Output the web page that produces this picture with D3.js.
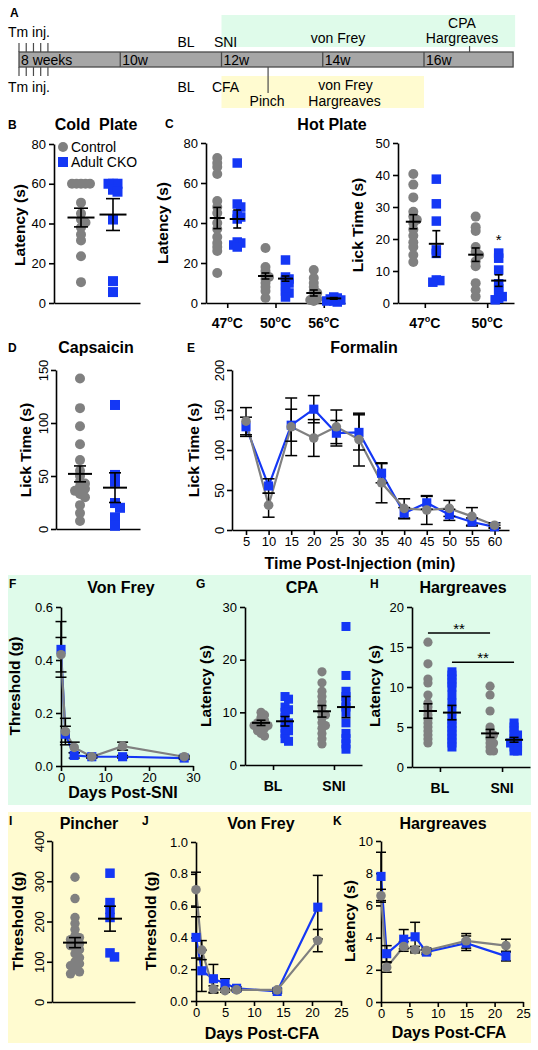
<!DOCTYPE html>
<html><head><meta charset="utf-8">
<script src="https://cdn.jsdelivr.net/npm/d3@7"></script>
<style>body{margin:0;background:#fff} svg{display:block} text{font-family:'Liberation Sans',Arial,sans-serif}</style>
</head><body><svg id="fig" width="538" height="1050"></svg>
<script>
// ---------------- DATA ----------------
const groupNames = ["Control", "Adult CKO"];

// A timeline
const weekTicks = [8, 10, 12, 14, 16];
const weekLabels = ["8 weeks", "10w", "12w", "14w", "16w"];
const tmInjDays = [0, 1, 2, 3, 4];
const topEvents = [{w: 11.3, t: "BL"}, {w: 12.08, t: "SNI"}, {w: 14.3, t: "von Frey"}];
const bottomEvents = [{w: 11.3, t: "BL"}, {w: 12.08, t: "CFA"}];

// B Cold plate
const coldPlateControl = [60, 60, 60, 60, 60, 50.5, 45, 42, 40.5, 38, 34.5, 31.5, 23.5, 10.5];
const coldPlateCKO = [60, 60, 60, 57, 56, 42, 11, 5.5];
const coldPlateMean = [43, 44.5];
const coldPlateSEM = [4.7, 8];

// C Hot plate
const hotTemps = ["47", "50", "56"];
const hotLatencyControl = [
  [72.5, 70, 68, 64.5, 51, 48, 45, 40, 37, 33, 30, 28, 26, 15],
  [27.5, 18, 16, 14, 13, 12, 10, 8, 6, 2.5],
  [16.5, 12.5, 10, 8, 6, 5, 3, 2, 1.5, 1]];
const hotLatencyCKO = [
  [70, 49.5, 48, 44, 43, 42, 30.5, 30, 29, 28],
  [21.5, 13, 12, 11, 10, 8, 6, 5, 3],
  [3, 2.5, 2, 1.5, 1, 1, 0.5]];
const hotLatencyMean = [[42.5, 42], [13.5, 12.2], [5, 2.3]];
const hotLatencySEM = [[5.3, 4.5], [1.5, 1.3], [1.5, 0.4]];

const lickTemps = ["47", "50"];
const lickControl = [
  [40.3, 37, 33, 28.5, 27, 26, 25, 23, 21, 19, 17.5, 15, 12.8],
  [27, 23.7, 22.5, 17.5, 16, 15, 13, 11.5, 6.2, 4, 2]];
const lickCKO = [
  [38.7, 31, 25.6, 16.6, 15.5, 7.2, 7, 6.5],
  [15.6, 14, 10.3, 6, 4.5, 3, 2, 1.5, 1]];
const lickMean = [[25.4, 18.5], [15.1, 7]];
const lickSEM = [[2.2, 4.1], [2.1, 1.8]];

// D Capsaicin
const capsControl = [142, 114, 97, 80, 65, 55, 50, 45, 43, 40, 38, 36, 33, 30, 22.5, 15, 7.5];
const capsCKO = [117, 51, 44.5, 24.5, 20, 11, 3];
const capsMean = [52, 39];
const capsSEM = [7.5, 14];

// E Formalin
const formalinTimes = [5, 10, 15, 20, 25, 30, 35, 40, 45, 50, 55, 60];
const formalinControlMean = [136, 31, 129, 115, 129, 113, 59, 27, 25, 27, 17, 6];
const formalinControlSEM = [17, 15, 36, 23, 21, 33, 25, 12, 18, 10, 11, 3];
const formalinCKOMean = [129, 55, 131, 151, 121, 122, 71, 21, 34, 19, 10, 4];
const formalinCKOSEM = [12, 9, 20, 17, 16, 22, 12, 7, 8, 7, 5, 2];

// F Von Frey SNI
const sniDays = [0, 1, 3, 7, 14, 28];
const vfSniControlMean = [0.42, 0.13, 0.07, 0.035, 0.075, 0.035];
const vfSniControlSEM = [0.065, 0.05, 0.02, 0.005, 0.015, 0.005];
const vfSniCKOMean = [0.44, 0.12, 0.04, 0.035, 0.035, 0.03];
const vfSniCKOSEM = [0.105, 0.03, 0.01, 0.005, 0.005, 0.005];

// G CPA
const sniCats = ["BL", "SNI"];
const cpaControl = [[10, 9.5, 9, 8.5, 8, 8, 7.8, 7.5, 7.5, 7, 7, 6.5, 6, 5.5],
                    [17.7, 15.6, 14, 13, 12, 11, 10, 9.5, 9, 8, 7.5, 7, 6, 5, 4]];
const cpaCKO = [[13, 12.5, 11, 10.5, 10, 9, 8, 8, 7, 6.5, 6, 5, 4.5],
                [26.3, 17, 14, 13, 12, 11, 10, 8, 6, 5, 4, 3]];
const cpaMean = [[8, 8.3], [10.2, 11]];
const cpaSEM = [[0.5, 0.9], [1.1, 2]];

// H Hargreaves SNI
const hargControl = [[15.6, 12.9, 11, 10.5, 9, 8, 7.5, 7, 6.5, 6, 5.5, 5, 4.5, 4, 3.5, 3],
                     [10.1, 9, 7, 5, 4.5, 4, 4, 3.5, 3, 3, 2.5, 2, 2]];
const hargCKO = [[11.9, 11.5, 11, 10.5, 10, 9, 8, 7, 6, 5.5, 5, 4.5, 4, 3.5, 3, 2.5],
                 [5.5, 5, 4.5, 4, 4, 3.5, 3, 3, 3, 2.5, 2.5, 2, 2]];
const hargMean = [[7, 6.8], [4.2, 3.4]];
const hargSEM = [[0.9, 0.9], [0.5, 0.3]];
const hargSig = [{group: 0, y: 16.75, label: "**"}, {group: 1, y: 13.1, label: "**"}];

// I Pincher
const pinchControl = [310, 257, 210, 195, 180, 165, 160, 155, 150, 145, 140, 135, 130, 120, 110, 100, 95, 90, 80, 75, 70];
const pinchCKO = [320, 247, 230, 210, 122, 112];
const pinchMean = [147.5, 207];
const pinchSEM = [12.5, 31];

// J Von Frey CFA
const cfaDaysVF = [0, 1, 3, 5, 7, 14, 21];
const vfCfaControlMean = [0.70, 0.32, 0.075, 0.065, 0.07, 0.07, 0.38];
const vfCfaControlSEM = [0.11, 0.06, 0.02, 0.01, 0.01, 0.01, 0.07];
const vfCfaCKOMean = [0.40, 0.19, 0.14, 0.11, 0.08, 0.06, 0.59];
const vfCfaCKOSEM = [0.13, 0.13, 0.09, 0.03, 0.01, 0.01, 0.20];

// K Hargreaves CFA
const cfaDaysH = [0, 1, 4, 6, 8, 15, 22];
const hCfaControlMean = [6.6, 2.15, 3.45, 3.25, 3.2, 3.8, 3.5];
const hCfaControlSEM = [0.4, 0.3, 0.3, 0.2, 0.15, 0.45, 0.4];
const hCfaCKOMean = [7.8, 3.0, 3.9, 4.05, 3.1, 3.65, 2.85];
const hCfaCKOSEM = [1.5, 0.5, 0.6, 0.9, 0.15, 0.45, 0.3];

// ---------------- DRAWING ----------------
const GRAY = "#808080", BLUE = "#1437f5", GREENBG = "#dffbea", YELLOWBG = "#fffbd0";
const svg = d3.select("#fig");

function txt(x, y, s, o = {}) {
  return svg.append("text").attr("x", x).attr("y", y).text(s)
    .attr("font-size", o.size || 13).attr("font-weight", o.bold ? "bold" : "normal")
    .attr("text-anchor", o.anchor || "start").attr("fill", "#000");
}
function yLabel(cx, cy, s, size = 15.5) {
  svg.append("text").attr("transform", `translate(${cx},${cy}) rotate(-90)`)
    .attr("text-anchor", "middle").attr("dy", "0.35em").attr("font-weight", "bold")
    .attr("font-size", size).text(s);
}
function styleAxis(a) {
  a.attr("font-family", null).attr("font-size", null);
  a.select(".domain").attr("stroke", "#000").attr("stroke-width", 1.6);
  a.selectAll(".tick line").attr("stroke", "#000").attr("stroke-width", 1.6);
  a.selectAll(".tick text").attr("font-size", 13).attr("fill", "#000");
}
function yAxis(y, x0, ticks, fmt, rotated) {
  const a = svg.append("g").attr("transform", `translate(${x0},0)`)
    .call(d3.axisLeft(y).tickValues(ticks).tickFormat(fmt).tickSize(5).tickSizeOuter(0).tickPadding(3));
  styleAxis(a);
  if (rotated) a.selectAll(".tick text").attr("transform", "rotate(-90)")
    .attr("x", 0).attr("y", -8).attr("dy", 0).attr("text-anchor", "middle");
  return a;
}
function xAxisLin(x, y0, ticks) {
  const a = svg.append("g").attr("transform", `translate(0,${y0})`)
    .call(d3.axisBottom(x).tickValues(ticks).tickFormat(d3.format("d")).tickSize(5).tickSizeOuter(0).tickPadding(2));
  styleAxis(a);
  return a;
}
// simple swarm: points only pushed sideways when they nearly coincide
function swarm(vals, y, cx, step, dyT) {
  const placed = [];
  return vals.slice().sort((a, b) => b - a).map(v => {
    const py = y(v); let px = cx;
    for (let n = 0; n < 60; n++) {
      const off = n === 0 ? 0 : (n % 2 ? 1 : -1) * Math.ceil(n / 2) * step;
      px = cx + off;
      if (placed.every(p => Math.abs(p[0] - px) >= step * 0.95 || Math.abs(p[1] - py) >= dyT)) break;
    }
    placed.push([px, py]);
    return [px, py];
  });
}
function marker(g, shape, color, px, py, r) {
  if (shape === "circle") g.append("circle").attr("cx", px).attr("cy", py).attr("r", r).attr("fill", color);
  else g.append("rect").attr("x", px - r).attr("y", py - r).attr("width", 2 * r).attr("height", 2 * r).attr("fill", color);
}
function dotPanel(c) {
  const x = d3.scalePoint().domain(c.cats).range([c.x0, c.x1]).padding(c.pad);
  const ya = c.y.range()[0];
  const a = svg.append("g").attr("transform", `translate(0,${ya})`)
    .call(d3.axisBottom(x).tickSize(c.ticks ? 5 : 0).tickSizeOuter(0).tickFormat(""));
  styleAxis(a);
  if (c.ticks) {
    c.cats.forEach(cat => {
      const t = svg.append("text").attr("x", x(cat)).attr("y", ya + c.labelDy).attr("text-anchor", "middle")
        .attr("font-weight", "bold").attr("font-size", 14);
      if (c.degree) {
        t.append("tspan").text(cat);
        t.append("tspan").text("o").attr("font-size", 9).attr("dy", -6);
        t.append("tspan").text("C").attr("dy", 6);
      } else t.text(cat);
    });
  }
  const g = svg.append("g");
  const centers = [];
  c.cats.forEach((cat, i) => {
    const groupVals = [c.ctrl[i], c.cko[i]];
    centers.push([]);
    groupVals.forEach((vals, j) => {
      const cx = x(cat) + c.offsets[j];
      centers[i].push(cx);
      const rr = j === 0 ? c.r : c.side / 2;
      swarm(vals, c.y, cx, c.step, c.dyT).forEach(([px, py]) =>
        marker(g, j === 0 ? "circle" : "square", j === 0 ? GRAY : BLUE, px, py, rr));
    });
  });
  const eg = svg.append("g").attr("stroke", "#000").attr("stroke-width", 2);
  c.cats.forEach((cat, i) => {
    [0, 1].forEach(j => {
      const cx = centers[i][j], m = c.mean[i][j], s = c.sem[i][j];
      eg.append("line").attr("x1", cx - c.meanW / 2).attr("x2", cx + c.meanW / 2).attr("y1", c.y(m)).attr("y2", c.y(m));
      eg.append("line").attr("x1", cx).attr("x2", cx).attr("y1", c.y(m - s)).attr("y2", c.y(m + s)).attr("stroke-width", 1.6);
      [m - s, m + s].forEach(v => eg.append("line").attr("x1", cx - c.capW / 2).attr("x2", cx + c.capW / 2)
        .attr("y1", c.y(v)).attr("y2", c.y(v)).attr("stroke-width", 1.6));
    });
  });
  return {x, centers};
}
function lineChart(x, y, xs, series, capW, r) {
  const line = d3.line().x((d, i) => x(xs[i])).y(d => y(d));
  series.forEach(s => svg.append("path").attr("d", line(s.mean)).attr("fill", "none")
    .attr("stroke", s.color).attr("stroke-width", 2.2));
  const eg = svg.append("g").attr("stroke", "#000").attr("stroke-width", 1.5);
  series.forEach(s => s.mean.forEach((m, i) => {
    const cx = x(xs[i]), lo = m - s.sem[i], hi = m + s.sem[i];
    eg.append("line").attr("x1", cx).attr("x2", cx).attr("y1", y(lo)).attr("y2", y(hi));
    [lo, hi].forEach(v => eg.append("line").attr("x1", cx - capW / 2).attr("x2", cx + capW / 2).attr("y1", y(v)).attr("y2", y(v)));
  }));
  series.forEach(s => {
    const g = svg.append("g");
    s.mean.forEach((m, i) => marker(g, s.shape, s.color, x(xs[i]), y(m), s.shape === "circle" ? r : r * 0.95));
  });
}

// backgrounds
svg.append("rect").attr("x", 8).attr("y", 575).attr("width", 523).attr("height", 230).attr("fill", GREENBG);
svg.append("rect").attr("x", 8).attr("y", 812).attr("width", 523).attr("height", 231).attr("fill", YELLOWBG);

// ---------- Panel A ----------
const wx = d3.scaleLinear().domain([8, 16]).range([19, 424]);
const barEnd = 17.76;
svg.append("rect").attr("x", wx(12)).attr("y", 15).attr("width", wx(17.8) - wx(12)).attr("height", 32).attr("fill", GREENBG);
svg.append("rect").attr("x", wx(12)).attr("y", 76).attr("width", wx(16) - wx(12)).attr("height", 32).attr("fill", YELLOWBG);
svg.append("rect").attr("x", wx(8)).attr("y", 52).attr("width", wx(barEnd) - wx(8)).attr("height", 15)
  .attr("fill", "#a6a6a6").attr("stroke", "#4a4a4a").attr("stroke-width", 1.3);
weekTicks.forEach((w, i) => {
  if (i > 0) svg.append("line").attr("x1", wx(w)).attr("x2", wx(w)).attr("y1", 52).attr("y2", 67).attr("stroke", "#4a4a4a").attr("stroke-width", 1.3);
  txt(wx(w) + 2, 65, weekLabels[i], {size: 14});
});
tmInjDays.forEach(d => {
  const xx = wx(8 + d / 7);
  svg.append("line").attr("x1", xx).attr("x2", xx).attr("y1", 43).attr("y2", 52).attr("stroke", "#4a4a4a").attr("stroke-width", 1.2);
  svg.append("line").attr("x1", xx).attr("x2", xx).attr("y1", 67).attr("y2", 76).attr("stroke", "#4a4a4a").attr("stroke-width", 1.2);
});
txt(8, 37, "Tm inj.", {size: 14});
txt(8, 92, "Tm inj.", {size: 14});
topEvents.forEach(e => txt(wx(e.w), e.t === "von Frey" ? 43 : 47, e.t, {size: 14, anchor: "middle"}));
bottomEvents.forEach(e => txt(wx(e.w), 92, e.t, {size: 14, anchor: "middle"}));
txt(wx(16.75), 28, "CPA", {size: 14, anchor: "middle"});
txt(wx(16.75), 43, "Hargreaves", {size: 14, anchor: "middle"});
svg.append("line").attr("x1", wx(16.9)).attr("x2", wx(16.9)).attr("y1", 46).attr("y2", 52).attr("stroke", "#4a4a4a").attr("stroke-width", 1.2);
svg.append("line").attr("x1", wx(12.92)).attr("x2", wx(12.92)).attr("y1", 67).attr("y2", 93).attr("stroke", "#4a4a4a").attr("stroke-width", 1.2);
txt(wx(12.9), 106, "Pinch", {size: 14, anchor: "middle"});
txt(wx(14.45), 90, "von Frey", {size: 14, anchor: "middle"});
txt(wx(14.43), 106, "Hargreaves", {size: 14, anchor: "middle"});
txt(10, 17, "A", {size: 12, bold: true});

// ---------- Panel B ----------
txt(8, 129, "B", {size: 12, bold: true});
txt(96, 130, "Cold  Plate", {size: 16, bold: true, anchor: "middle"}).attr("xml:space", "preserve").style("white-space", "pre");
const yB = d3.scaleLinear().domain([0, 80]).range([303, 144]);
yAxis(yB, 54, [0, 20, 40, 60, 80], d3.format("d"));
yLabel(20, 225, "Latency (s)");
dotPanel({y: yB, x0: 54, x1: 140, cats: ["Cold"], pad: 0.5, offsets: [-16, 16],
  ctrl: [coldPlateControl], cko: [coldPlateCKO], mean: [coldPlateMean], sem: [coldPlateSEM],
  r: 5, side: 10, step: 4.5, dyT: 4, meanW: 27, capW: 14, ticks: false});
svg.append("circle").attr("cx", 63).attr("cy", 147).attr("r", 5).attr("fill", GRAY);
txt(71, 152, groupNames[0], {size: 14});
svg.append("rect").attr("x", 58).attr("y", 157).attr("width", 10).attr("height", 10).attr("fill", BLUE);
txt(71, 167, groupNames[1], {size: 14});

// ---------- Panel C ----------
txt(165, 128, "C", {size: 12, bold: true});
txt(332, 130, "Hot Plate", {size: 16, bold: true, anchor: "middle"});
const yC1 = d3.scaleLinear().domain([0, 80]).range([303, 143]);
yAxis(yC1, 206, [0, 20, 40, 60, 80], d3.format("d"));
yLabel(163, 223, "Latency (s)");
dotPanel({y: yC1, x0: 206, x1: 345, cats: hotTemps, pad: 0.44, offsets: [-10, 10],
  ctrl: hotLatencyControl, cko: hotLatencyCKO, mean: hotLatencyMean, sem: hotLatencySEM,
  r: 5, side: 9.5, step: 3.5, dyT: 3.5, meanW: 15, capW: 8, ticks: true, labelDy: 25, degree: true});
const yC2 = d3.scaleLinear().domain([0, 50]).range([303, 143]);
yAxis(yC2, 398, [0, 10, 20, 30, 40, 50], d3.format("d"));
yLabel(358, 225, "Lick Time (s)");
const pC2 = dotPanel({y: yC2, x0: 398, x1: 514, cats: lickTemps, pad: 0.43, offsets: [-11.5, 11.5],
  ctrl: lickControl, cko: lickCKO, mean: lickMean, sem: lickSEM,
  r: 5, side: 9.5, step: 3.5, dyT: 3.5, meanW: 15, capW: 8, ticks: true, labelDy: 25, degree: true});
txt(pC2.centers[1][1], 245, "*", {size: 15, anchor: "middle"});

// ---------- Panel D ----------
txt(8, 352, "D", {size: 12, bold: true});
txt(96, 353, "Capsaicin", {size: 16, bold: true, anchor: "middle"});
const yD = d3.scaleLinear().domain([0, 150]).range([529, 370]);
yAxis(yD, 56, [0, 50, 100, 150], d3.format("d"), true);
yLabel(26, 450, "Lick Time (s)");
dotPanel({y: yD, x0: 56, x1: 140, cats: ["Caps"], pad: 0.5, offsets: [-18, 17],
  ctrl: [capsControl], cko: [capsCKO], mean: [capsMean], sem: [capsSEM],
  r: 5, side: 10, step: 5, dyT: 5, meanW: 24, capW: 12, ticks: false});

// ---------- Panel E ----------
txt(187, 352, "E", {size: 12, bold: true});
txt(364, 353, "Formalin", {size: 16, bold: true, anchor: "middle"});
const xE = d3.scaleLinear().domain([1.9, 63.2]).range([232, 509]);
const yE = d3.scaleLinear().domain([0, 200]).range([530, 370]);
yAxis(yE, 232, [0, 50, 100, 150, 200], d3.format("d"), true);
xAxisLin(xE, 530, formalinTimes);
yLabel(194, 450, "Lick Time (s)");
txt(360, 569, "Time Post-Injection (min)", {size: 16, bold: true, anchor: "middle"});
lineChart(xE, yE, formalinTimes, [
  {mean: formalinCKOMean, sem: formalinCKOSEM, color: BLUE, shape: "square"},
  {mean: formalinControlMean, sem: formalinControlSEM, color: GRAY, shape: "circle"}], 12, 4.8);

// ---------- Panel F ----------
txt(9, 588, "F", {size: 12, bold: true});
txt(121, 593, "Von Frey", {size: 16, bold: true, anchor: "middle"});
const xF = d3.scaleLinear().domain([0, 30]).range([61, 193]);
const yF = d3.scaleLinear().domain([0, 0.6]).range([766, 607]);
yAxis(yF, 61, [0, 0.2, 0.4, 0.6], d3.format(".1f"));
xAxisLin(xF, 766, [0, 10, 20, 30]);
yLabel(15, 686, "Threshold (g)");
txt(123, 798, "Days Post-SNI", {size: 16, bold: true, anchor: "middle"});
lineChart(xF, yF, sniDays, [
  {mean: vfSniCKOMean, sem: vfSniCKOSEM, color: BLUE, shape: "square"},
  {mean: vfSniControlMean, sem: vfSniControlSEM, color: GRAY, shape: "circle"}], 11, 4.8);

// ---------- Panel G ----------
txt(196, 588, "G", {size: 12, bold: true});
txt(302, 593, "CPA", {size: 16, bold: true, anchor: "middle"});
const yG = d3.scaleLinear().domain([0, 30]).range([765, 607]);
yAxis(yG, 245, [0, 10, 20, 30], d3.format("d"));
yLabel(206, 686, "Latency (s)");
dotPanel({y: yG, x0: 245, x1: 362, cats: sniCats, pad: 0.46, offsets: [-12, 12],
  ctrl: cpaControl, cko: cpaCKO, mean: cpaMean, sem: cpaSEM,
  r: 4.6, side: 9, step: 3.5, dyT: 3, meanW: 18, capW: 9, ticks: true, labelDy: 26});

// ---------- Panel H ----------
txt(370, 588, "H", {size: 12, bold: true});
txt(463, 593, "Hargreaves", {size: 16, bold: true, anchor: "middle"});
const yH = d3.scaleLinear().domain([0, 20]).range([767, 607]);
yAxis(yH, 412, [0, 5, 10, 15, 20], d3.format("d"));
yLabel(375, 686, "Latency (s)");
const pH = dotPanel({y: yH, x0: 412, x1: 530, cats: sniCats, pad: 0.45, offsets: [-12, 12],
  ctrl: hargControl, cko: hargCKO, mean: hargMean, sem: hargSEM,
  r: 4.6, side: 9, step: 3.5, dyT: 3, meanW: 18, capW: 9, ticks: true, labelDy: 26});
hargSig.forEach(s => {
  const xa = pH.centers[0][s.group], xb = pH.centers[1][s.group];
  svg.append("line").attr("x1", xa).attr("x2", xb).attr("y1", yH(s.y)).attr("y2", yH(s.y)).attr("stroke", "#000").attr("stroke-width", 1.6);
  txt((xa + xb) / 2, yH(s.y) + 1, s.label, {size: 15, anchor: "middle"});
});

// ---------- Panel I ----------
txt(9, 825, "I", {size: 12, bold: true});
txt(89, 829, "Pincher", {size: 16, bold: true, anchor: "middle"});
const yI = d3.scaleLinear().domain([0, 400]).range([1002, 841]);
yAxis(yI, 52, [0, 100, 200, 300, 400], d3.format("d"), true);
yLabel(18, 921, "Threshold (g)");
dotPanel({y: yI, x0: 52, x1: 135, cats: ["Pinch"], pad: 0.5, offsets: [-18.5, 16.5],
  ctrl: [pinchControl], cko: [pinchCKO], mean: [pinchMean], sem: [pinchSEM],
  r: 4.7, side: 9.5, step: 4.5, dyT: 4.5, meanW: 24, capW: 12, ticks: false});

// ---------- Panel J ----------
txt(142, 825, "J", {size: 12, bold: true});
txt(261, 829, "Von Frey", {size: 16, bold: true, anchor: "middle"});
const xJ = d3.scaleLinear().domain([0, 25]).range([196, 341]);
const yJ = d3.scaleLinear().domain([0, 1]).range([1001, 842]);
yAxis(yJ, 196, [0, 0.2, 0.4, 0.6, 0.8, 1.0], d3.format(".1f"));
xAxisLin(xJ, 1001, [0, 5, 10, 15, 20, 25]);
yLabel(151, 921, "Threshold (g)");
txt(262, 1039, "Days Post-CFA", {size: 16, bold: true, anchor: "middle"});
lineChart(xJ, yJ, cfaDaysVF, [
  {mean: vfCfaCKOMean, sem: vfCfaCKOSEM, color: BLUE, shape: "square"},
  {mean: vfCfaControlMean, sem: vfCfaControlSEM, color: GRAY, shape: "circle"}], 10, 4.8);

// ---------- Panel K ----------
txt(333, 825, "K", {size: 12, bold: true});
txt(443, 829, "Hargreaves", {size: 16, bold: true, anchor: "middle"});
const xK = d3.scaleLinear().domain([0, 25]).range([381, 523]);
const yK = d3.scaleLinear().domain([0, 10]).range([1002, 841]);
yAxis(yK, 381, [0, 2, 4, 6, 8, 10], d3.format("d"));
xAxisLin(xK, 1002, [0, 5, 10, 15, 20, 25]);
yLabel(350, 921, "Latency (s)");
txt(449, 1038, "Days Post-CFA", {size: 16, bold: true, anchor: "middle"});
lineChart(xK, yK, cfaDaysH, [
  {mean: hCfaCKOMean, sem: hCfaCKOSEM, color: BLUE, shape: "square"},
  {mean: hCfaControlMean, sem: hCfaControlSEM, color: GRAY, shape: "circle"}], 10, 4.8);
</script></body></html>
